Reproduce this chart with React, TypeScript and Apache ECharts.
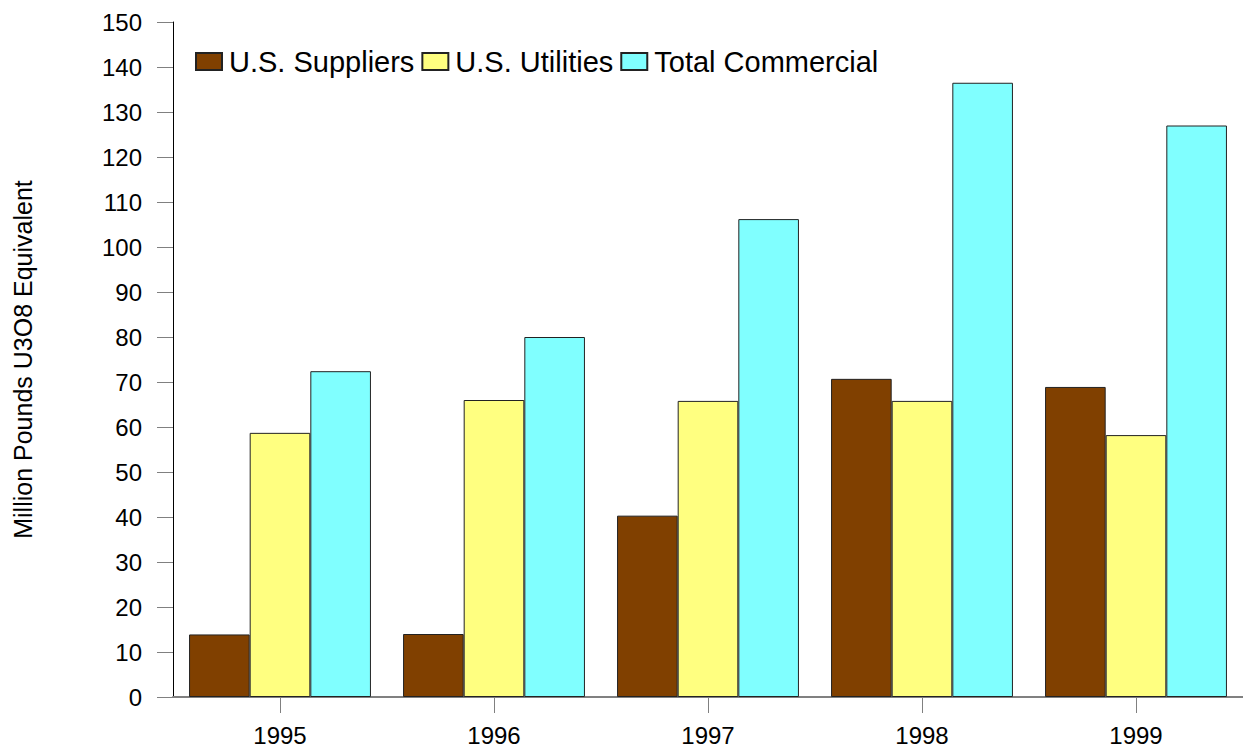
import React, { useEffect, useRef } from "react";
import * as echarts from "echarts";

const years = ["1995", "1996", "1997", "1998", "1999"];
const usSuppliers = [13.9, 14.0, 40.3, 70.7, 68.9];
const usUtilities = [58.7, 66.0, 65.8, 65.8, 58.2];
const totalCommercial = [72.4, 80.0, 106.2, 136.5, 127.0];

const seriesNames = ["U.S. Suppliers", "U.S. Utilities", "Total Commercial"];
const seriesColors = ["#804000", "#FFFF80", "#80FFFF"];

const FONT = "'Liberation Sans', Arial, sans-serif";

export default function App() {
  const ref = useRef<HTMLDivElement>(null);

  useEffect(() => {
    if (!ref.current) return;
    const chart = echarts.init(ref.current, undefined, { renderer: "svg" });
    const data = [usSuppliers, usUtilities, totalCommercial];
    chart.setOption({
      animation: false,
      backgroundColor: "#ffffff",
      textStyle: { fontFamily: FONT, color: "#000" },
      grid: { left: 173, width: 1078, top: 22, height: 675, containLabel: false },
      legend: {
        show: true,
        left: 195,
        top: 47,
        padding: 0,
        itemGap: 7,
        itemWidth: 26,
        itemHeight: 17,
        icon: "rect",
        textStyle: { fontSize: 29, color: "#000", fontFamily: FONT, padding: [0, 0, 0, 2] },
        data: seriesNames,
      },
      xAxis: {
        type: "category",
        data: years,
        axisLine: { show: true, lineStyle: { color: "#808080", width: 2 } },
        axisTick: { show: true, alignWithLabel: true, length: 16, lineStyle: { color: "#808080", width: 1 } },
        axisLabel: { fontSize: 24, color: "#000", margin: 26, fontFamily: FONT },
        splitLine: { show: false },
      },
      yAxis: {
        type: "value",
        min: 0,
        max: 150,
        interval: 10,
        name: "Million Pounds U3O8 Equivalent",
        nameLocation: "middle",
        nameGap: 138,
        nameRotate: 90,
        nameTextStyle: { fontSize: 25, color: "#000", fontFamily: FONT },
        axisLine: { show: true, lineStyle: { color: "#000", width: 1 } },
        axisTick: { show: true, length: 16, lineStyle: { color: "#808080", width: 1 } },
        axisLabel: { fontSize: 24, color: "#000", margin: 31, fontFamily: FONT },
        splitLine: { show: false },
      },
      series: seriesNames.map((name, i) => ({
        name,
        type: "bar",
        data: data[i],
        barGap: "0%",
        barCategoryGap: "15%",
        itemStyle: { color: seriesColors[i], borderColor: "#222", borderWidth: 1 },
      })),
    });
    return () => chart.dispose();
  }, []);

  return (
    <div
      ref={ref}
      style={{ position: "fixed", left: 0, top: 0, width: 1243, height: 748, background: "#fff" }}
    />
  );
}
